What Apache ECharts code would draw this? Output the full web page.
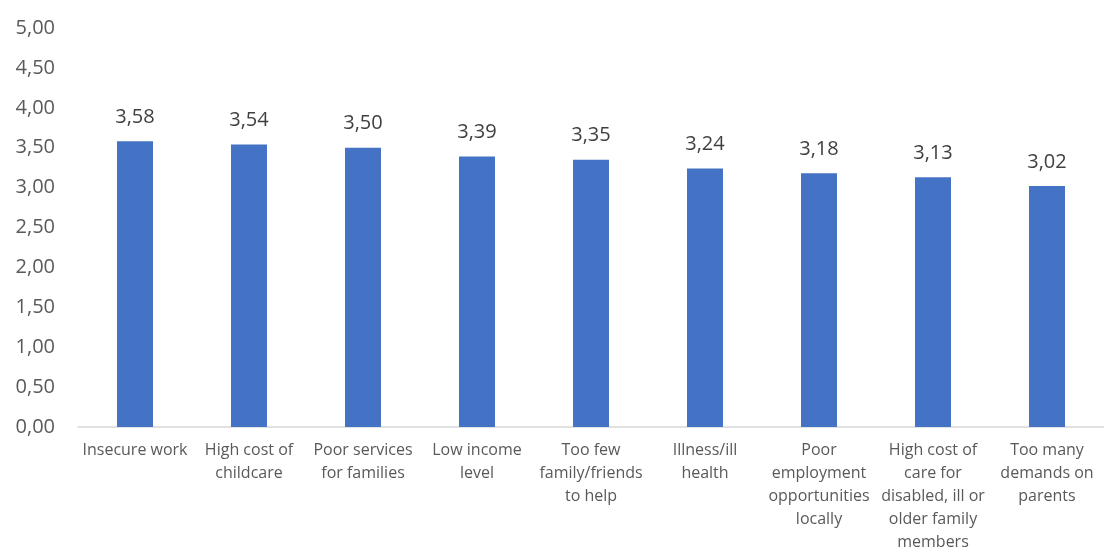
<!DOCTYPE html>
<html><head><meta charset="utf-8">
<script src="https://cdn.jsdelivr.net/npm/echarts@6/dist/echarts.min.js"></script>
<style>html,body{margin:0;padding:0;background:#fff}#c{width:1104px;height:554px}</style>
</head><body><div id="c"></div>
<script>
const categories = [
  "Insecure work",
  "High cost of\nchildcare",
  "Poor services\nfor families",
  "Low income\nlevel",
  "Too few\nfamily/friends\nto help",
  "Illness/ill\nhealth",
  "Poor\nemployment\nopportunities\nlocally",
  "High cost of\ncare for\ndisabled, ill or\nolder family\nmembers",
  "Too many\ndemands on\nparents"
];
const values = [3.58, 3.54, 3.50, 3.39, 3.35, 3.24, 3.18, 3.13, 3.02];
const fmt = v => v.toFixed(2).replace('.', ',');
const chart = echarts.init(document.getElementById('c'));
chart.setOption({
  animation: false,
  grid: {left: 78, right: -9, top: 28, bottom: 123, containLabel: false},
  xAxis: {
    type: 'category', data: categories,
    axisLine: {show: true, lineStyle: {color: '#d9d9d9', width: 1.5}},
    axisTick: {show: false},
    axisLabel: {interval: 0, color: '#595959', fontFamily: 'Open Sans', fontSize: 16, lineHeight: 23, margin: 12}
  },
  yAxis: {
    type: 'value', min: 0, max: 5, interval: 0.5,
    splitLine: {show: false},
    axisLine: {show: false}, axisTick: {show: false},
    axisLabel: {color: '#595959', fontFamily: 'Open Sans', fontSize: 20, margin: 23, formatter: v => fmt(v)}
  },
  series: [{
    type: 'bar', data: values, barWidth: 36,
    itemStyle: {color: '#4472C4'},
    label: {show: true, position: 'top', distance: 14, color: '#404040', fontFamily: 'Open Sans', fontSize: 20, formatter: p => fmt(p.value)}
  }]
});
</script></body></html>
